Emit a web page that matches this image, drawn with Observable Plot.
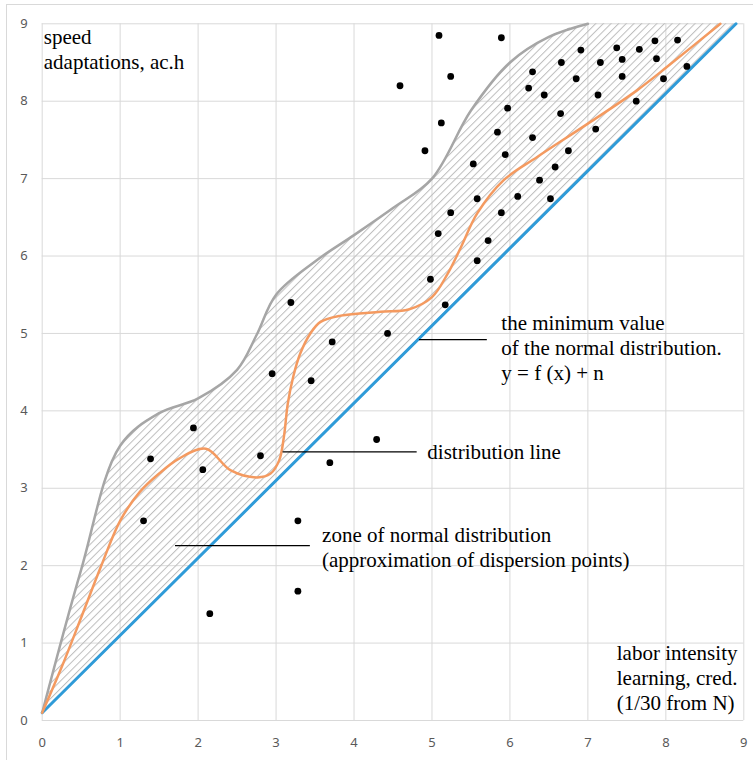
<!DOCTYPE html>
<html><head><meta charset="utf-8">
<script src="https://cdn.jsdelivr.net/npm/d3@7"></script>
<script src="https://cdn.jsdelivr.net/npm/@observablehq/plot@0.6"></script>
<style>
body{margin:0;background:#fff}
#chart{position:relative;width:753px;height:760px;overflow:hidden}
#border{position:absolute;left:6px;top:4px;width:746px;height:770px;border-top:1px solid #d9d9d9;border-left:1px solid #d9d9d9;pointer-events:none}
</style>
</head><body>
<div id="chart"><div id="border"></div></div>
<script>
// ---- data ----
const tickValues = [0,1,2,3,4,5,6,7,8,9];

// minimum line of the normal distribution (blue)
const blueX = [0, 8.9];
const blueY = [0.1, 9.0];

// upper boundary of the zone (gray)
const grayX = [0,0.5,1,1.5,2,2.5,2.75,3,3.5,4,4.5,5,5.5,6,6.5,7];
const grayY = [0.1,1.95,3.55,3.97,4.16,4.53,4.98,5.5,5.93,6.27,6.62,7.0,7.88,8.5,8.83,9.0];

// zone of normal distribution (hatched): x, lower edge, upper edge
const zoneX    = [0,0.5,1,1.5,2,2.5,2.75,3,3.5,4,4.5,5,5.5,6,6.5,7,8.9];
const zoneLow  = [0.1,0.6,1.1,1.6,2.1,2.6,2.85,3.1,3.6,4.1,4.6,5.1,5.6,6.1,6.6,7.1,9.0];
const zoneHigh = [0.1,1.95,3.55,3.97,4.16,4.53,4.98,5.5,5.93,6.27,6.62,7.0,7.88,8.5,8.83,9.0,9.0];

// distribution line (orange)
const orangeX = [0,0.25,0.5,0.75,1,1.25,1.5,1.75,2.1,2.42,2.76,2.93,3.04,3.1,3.15,3.22,3.31,3.44,3.57,3.83,4.34,4.7,5.0,5.2,5.37,5.58,5.92,6.35,7.0,7.63,8.06,8.7];
const orangeY = [0.1,0.69,1.33,1.98,2.58,2.95,3.19,3.38,3.51,3.23,3.14,3.19,3.36,3.66,4.09,4.44,4.74,5.0,5.15,5.23,5.28,5.31,5.47,5.77,6.11,6.55,6.98,7.28,7.71,8.14,8.48,9.0];

// dispersion points
const ptX = [5.09,5.89,4.59,5.24,5.12,4.91,6.91,7.37,7.66,7.86,8.15,6.66,7.16,7.44,7.88,6.29,6.85,7.44,7.97,8.27,6.24,6.44,7.13,5.97,7.62,6.65,5.84,6.29,7.10,5.94,6.75,5.53,6.58,6.38,5.58,6.10,6.52,5.24,5.89,5.08,5.72,5.58,4.98,5.17,4.43,3.19,3.72,2.95,3.45,1.94,1.39,2.06,2.80,3.69,4.29,1.30,3.28,3.28,2.15];
const ptY = [8.85,8.82,8.20,8.32,7.72,7.36,8.66,8.69,8.67,8.78,8.79,8.50,8.50,8.54,8.55,8.38,8.29,8.32,8.29,8.45,8.17,8.08,8.08,7.91,8.00,7.84,7.60,7.53,7.64,7.31,7.36,7.19,7.15,6.98,6.74,6.77,6.74,6.56,6.56,6.29,6.20,5.94,5.70,5.37,5.00,5.40,4.89,4.48,4.39,3.78,3.38,3.24,3.42,3.33,3.63,2.58,2.58,1.67,1.38];

// annotation leaders
const leaderX1 = [4.84, 3.09, 1.71];
const leaderX2 = [5.71, 4.81, 3.44];
const leaderY  = [4.92, 3.47, 2.26];

// annotation texts
const noteText = [
  "the minimum value\nof the normal distribution.\ny = f (x) + n",
  "distribution line",
  "zone of normal distribution\n(approximation of dispersion points)",
  "speed\nadaptations, ac.h",
  "labor intensity\nlearning, cred.\n(1/30 from N)"
];
const noteX = [5.89, 4.94, 3.59, 0.02, 7.37];
const noteY = [4.83, 3.48, 2.25, 8.68, 0.56];

// ---- build tables ----
const blue = blueX.map((x,i)=>({x, y: blueY[i]}));
const gray = grayX.map((x,i)=>({x, y: grayY[i]}));
const zone = zoneX.map((x,i)=>({x, lo: zoneLow[i], hi: zoneHigh[i]}));
const orange = orangeX.map((x,i)=>({x, y: orangeY[i]}));
const points = ptX.map((x,i)=>({x, y: ptY[i]}));
const leaders = leaderX1.map((x1,i)=>({x1, x2: leaderX2[i], y: leaderY[i]}));
const notes = noteText.map((t,i)=>({t, x: noteX[i], y: noteY[i]}));

const plot = Plot.plot({
  width: 753, height: 760,
  marginLeft: 41.7, marginRight: 9.7, marginTop: 23.3, marginBottom: 40,
  x: {domain: [0, 9]},
  y: {domain: [0, 9]},
  style: {fontFamily: "'Noto Sans', sans-serif", fontSize: "13px", background: "transparent", overflow: "visible"},
  marks: [
    Plot.gridX(tickValues, {stroke: "#d9d9d9", strokeOpacity: 1, strokeWidth: 1}),
    Plot.gridY(tickValues, {stroke: "#d9d9d9", strokeOpacity: 1, strokeWidth: 1}),
    Plot.areaY(zone, {x: "x", y1: "lo", y2: "hi", fill: "url(#hatch)", curve: "catmull-rom", clip: true}),
    Plot.line(gray, {x: "x", y: "y", stroke: "#a6a6a6", strokeWidth: 2.5, curve: "catmull-rom"}),
    Plot.line(blue, {x: "x", y: "y", stroke: "#2f9bd8", strokeWidth: 3}),
    Plot.line(orange, {x: "x", y: "y", stroke: "#f49a60", strokeWidth: 2.5, curve: "catmull-rom"}),
    Plot.dot(points, {x: "x", y: "y", r: 3.4, fill: "black", stroke: "none"}),
    Plot.ruleY(leaders, {y: "y", x1: "x1", x2: "x2", stroke: "black", strokeWidth: 1.2}),
    Plot.text(notes, {x: "x", y: "y", text: "t", textAnchor: "start", lineAnchor: "middle",
      fontFamily: "'Liberation Serif', 'Times New Roman', serif", fontSize: 21, lineHeight: 1.19, fill: "black"}),
    Plot.axisX(tickValues, {tickSize: 0, tickPadding: 17, label: null, fill: "#595959", tickFormat: d => String(d)}),
    Plot.axisY(tickValues, {tickSize: 0, tickPadding: 14.5, label: null, fill: "#595959", tickFormat: d => String(d)})
  ]
});

d3.select(plot).insert("defs", ":first-child").html(
  `<pattern id="hatch" patternUnits="userSpaceOnUse" width="5.4" height="5.4" patternTransform="rotate(45)">
     <line x1="0.5" y1="0" x2="0.5" y2="5.4" stroke="#bdbdbd" stroke-width="1"/>
   </pattern>`
);
document.getElementById("chart").appendChild(plot);
</script>
</body></html>
